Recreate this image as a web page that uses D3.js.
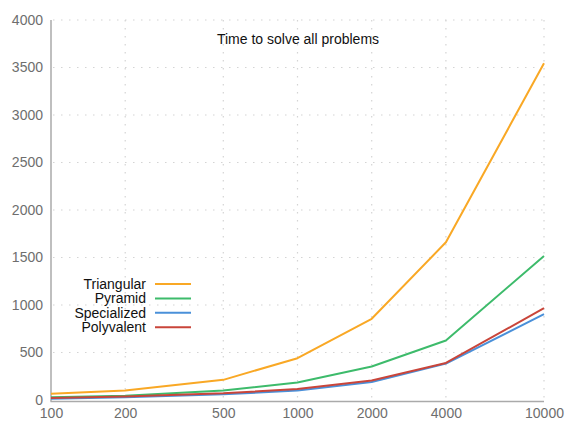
<!DOCTYPE html>
<html><head><meta charset="utf-8">
<script src="https://cdn.jsdelivr.net/npm/d3@7"></script>
<style>
html,body{margin:0;padding:0;background:#fff;}
text{font-family:"Liberation Sans",Arial,Helvetica,sans-serif;}
</style></head>
<body><svg id="c" width="566" height="421"></svg>
<script>
const xValues = [100, 200, 500, 1000, 2000, 4000, 10000];
const yTicks = [0, 500, 1000, 1500, 2000, 2500, 3000, 3500, 4000];
const seriesNames = ["Triangular", "Pyramid", "Specialized", "Polyvalent"];
const triangular = [65, 100, 212, 440, 855, 1660, 3545];
const pyramid = [28, 45, 100, 184, 352, 626, 1517];
const specialized = [12, 28, 60, 100, 190, 384, 903];
const polyvalent = [20, 36, 70, 116, 206, 390, 966];
const colors = ["#f9a825", "#3dbb6b", "#4a90d9", "#c9453a"];
const title = "Time to solve all problems";

const svg = d3.select("#c");
const x = d3.scaleLog().domain([100, 10000]).range([51, 544]);
const y = d3.scaleLinear().domain([0, 4000]).range([400, 20]);

// grid
const grid = svg.append("g");
grid.selectAll("line.h").data(yTicks.slice(1)).join("line")
  .attr("x1", 53).attr("x2", 544)
  .attr("y1", d => y(d)).attr("y2", d => y(d))
  .attr("stroke", "#d4d4d4").attr("stroke-width", 1.2)
  .attr("stroke-dasharray", "1.5,6.5");
grid.selectAll("line.v").data(xValues.slice(1)).join("line")
  .attr("x1", d => x(d)).attr("x2", d => x(d))
  .attr("y1", 20).attr("y2", 400)
  .attr("stroke", "#d4d4d4").attr("stroke-width", 1.2)
  .attr("stroke-dasharray", "1.5,6.5");

// axes
const yAxis = d3.axisLeft(y).tickValues(yTicks).tickSize(0).tickPadding(8).tickFormat(d3.format("d"));
const gy = svg.append("g").attr("transform", "translate(51,0)").call(yAxis);
gy.select(".domain").remove();
gy.selectAll("text").attr("fill", "#6e6e6e").style("font-size", "14px");
const xAxis = d3.axisBottom(x).tickValues(xValues).tickSize(0).tickPadding(7).tickFormat(d3.format("d"));
const gx = svg.append("g").attr("transform", "translate(0,401)").call(xAxis);
gx.select(".domain").remove();
gx.selectAll("text").attr("fill", "#6e6e6e").style("font-size", "14px");

svg.append("line").attr("x1", 51).attr("x2", 51).attr("y1", 20).attr("y2", 401.5)
  .attr("stroke", "#aaa").attr("stroke-width", 1.5);
svg.append("line").attr("x1", 50.5).attr("x2", 544).attr("y1", 401.5).attr("y2", 401.5)
  .attr("stroke", "#aaa").attr("stroke-width", 1.5);

// lines
const data = [triangular, pyramid, specialized, polyvalent];
const line = d3.line().x((d, i) => x(xValues[i])).y(d => y(d));
[0, 1, 2, 3].forEach(k => {
  svg.append("path").datum(data[k]).attr("d", line)
    .attr("fill", "none").attr("stroke", colors[k]).attr("stroke-width", 2)
    .attr("stroke-linejoin", "round");
});

// title
svg.append("text").attr("x", 298).attr("y", 44).attr("text-anchor", "middle")
  .attr("fill", "#111").style("font-size", "14px").text(title);

// legend
const leg = svg.append("g");
seriesNames.forEach((n, i) => {
  const yy = 284 + i * 14.4;
  leg.append("text").attr("x", 146).attr("y", yy + 5).attr("text-anchor", "end")
    .attr("fill", "#111").style("font-size", "14px").text(n);
  leg.append("line").attr("x1", 155).attr("x2", 191).attr("y1", yy).attr("y2", yy)
    .attr("stroke", colors[i]).attr("stroke-width", 2);
});
</script></body></html>
